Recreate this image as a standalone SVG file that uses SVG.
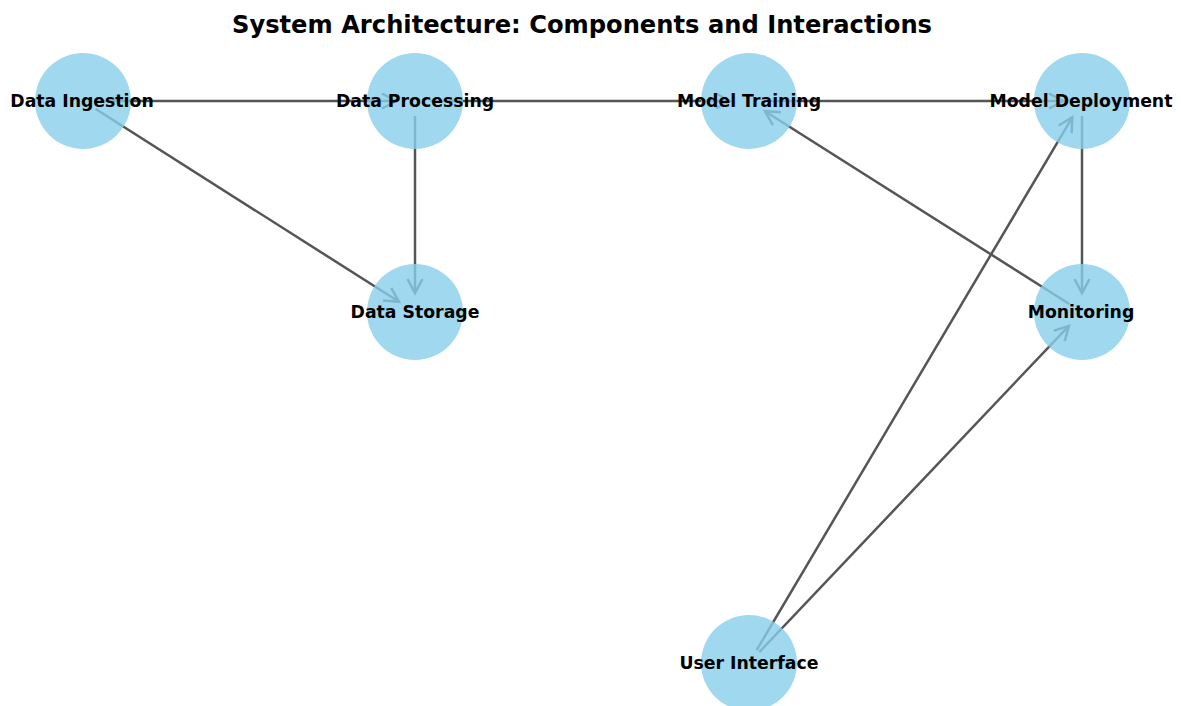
<svg xmlns="http://www.w3.org/2000/svg" width="1181" height="706" viewBox="0 0 1181 706">
  <style>
    .edge { stroke: #555555; stroke-width: 2.5; fill: none; marker-end: url(#chevron); }
    .node circle { fill: #87CEEB; fill-opacity: 0.8; }
    .node text { font-family: "DejaVu Sans", sans-serif; font-weight: bold; font-size: 17.3px; fill: #000; text-anchor: middle; }
    .title { font-family: "DejaVu Sans", sans-serif; font-weight: bold; font-size: 24.2px; fill: #000; text-anchor: middle; }
  </style>
  <defs>
    <marker id="chevron" markerUnits="userSpaceOnUse" viewBox="-16 -10 18 20" refX="0" refY="0" markerWidth="18" markerHeight="20" orient="auto" overflow="visible">
      <path d="M-14,-7.5 L0,0 L-14,7.5" fill="none" stroke="#555555" stroke-width="2.5" stroke-linejoin="miter"/>
    </marker>
  </defs>
  <rect width="1181" height="706" fill="#ffffff"/>

  <text class="title" x="582" y="33">System Architecture: Components and Interactions</text>

  <!-- directed connectors, drawn beneath the translucent nodes -->
  <g id="edges">
    <line class="edge" x1="98" y1="101" x2="396" y2="101"/>
    <line class="edge" x1="95.7" y1="109" x2="399" y2="301.8"/>
    <line class="edge" x1="430" y1="101" x2="730" y2="101"/>
    <line class="edge" x1="415" y1="116" x2="415" y2="293"/>
    <line class="edge" x1="764" y1="101" x2="1063" y2="101"/>
    <line class="edge" x1="1082" y1="116" x2="1082" y2="293"/>
    <line class="edge" x1="1069.3" y1="304" x2="765" y2="111.2"/>
    <line class="edge" x1="756.6" y1="650.1" x2="1072.3" y2="117.3"/>
    <line class="edge" x1="759.3" y1="652.1" x2="1068.9" y2="325.8"/>
  </g>

  <g id="node-data-ingestion" class="node">
    <circle cx="83" cy="101" r="48"/>
    <text x="82" y="106.5">Data Ingestion</text>
  </g>
  <g id="node-data-processing" class="node">
    <circle cx="415" cy="101" r="48"/>
    <text x="415" y="106.5">Data Processing</text>
  </g>
  <g id="node-model-training" class="node">
    <circle cx="749" cy="101" r="48"/>
    <text x="749" y="106.5">Model Training</text>
  </g>
  <g id="node-model-deployment" class="node">
    <circle cx="1082" cy="101" r="48"/>
    <text x="1081" y="106.5">Model Deployment</text>
  </g>
  <g id="node-data-storage" class="node">
    <circle cx="415" cy="312" r="48"/>
    <text x="415" y="317.5">Data Storage</text>
  </g>
  <g id="node-monitoring" class="node">
    <circle cx="1082" cy="312" r="48"/>
    <text x="1081" y="317.5">Monitoring</text>
  </g>
  <g id="node-user-interface" class="node">
    <circle cx="749" cy="663" r="48"/>
    <text x="749" y="668.5">User Interface</text>
  </g>
</svg>
